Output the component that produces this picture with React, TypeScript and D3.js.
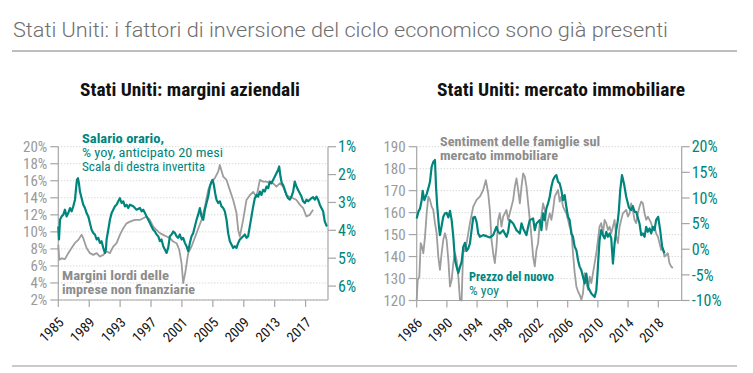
import React from "react";
import * as d3 from "d3";

const mainTitle = "Stati Uniti: i fattori di inversione del ciclo economico sono già presenti";
const leftSubtitle = "Stati Uniti: margini aziendali";
const rightSubtitle = "Stati Uniti: mercato immobiliare";

// Left chart: gross margins of non-financial companies (% , left axis)
const marginYears = [1985.00,1985.13,1985.43,1985.86,1986.29,1986.72,1987.16,1987.59,1988.02,1988.23,1988.66,1989.09,1989.53,1989.96,1990.39,1990.82,1991.25,1991.68,1992.11,1992.54,1992.97,1993.41,1993.84,1994.27,1994.91,1995.56,1995.99,1996.42,1996.85,1997.28,1997.72,1998.15,1998.58,1999.01,1999.44,1999.87,2000.30,2000.65,2000.95,2001.16,2001.42,2001.81,2002.24,2002.89,2003.53,2003.97,2004.40,2004.83,2005.26,2005.69,2005.90,2006.34,2006.77,2007.20,2007.63,2007.84,2008.06,2008.28,2008.49,2008.92,2009.35,2009.78,2010.22,2010.65,2011.08,2011.51,2011.94,2012.37,2012.80,2013.23,2013.66,2014.09,2014.53,2014.96,2015.39,2015.82,2016.25,2016.68,2017.11,2017.54,2017.97];
const marginValues = [8.48,6.72,6.90,6.80,7.50,8.10,8.70,9.06,9.65,9.26,8.10,7.50,7.30,7.50,7.10,7.30,7.70,7.50,8.28,8.67,9.65,10.43,11.00,11.20,11.40,11.40,11.60,11.80,11.40,10.60,10.20,9.85,9.65,9.45,9.26,8.87,8.67,7.90,6.33,3.98,5.16,7.50,8.28,9.85,11.40,12.97,14.92,15.90,16.30,17.07,17.85,16.50,16.10,14.90,13.75,13.00,12.20,10.20,9.45,11.40,13.75,14.30,14.70,14.10,16.10,15.90,15.90,15.70,15.70,15.30,15.70,15.30,14.30,14.10,13.95,13.75,13.20,12.80,11.80,12.00,12.60];

// Left chart: hourly wages % yoy, 20 months lead (right axis, inverted)
const wageYears = [1985.00,1985.09,1985.22,1985.43,1985.65,1985.86,1986.08,1986.29,1986.51,1986.72,1986.94,1987.16,1987.28,1987.41,1987.54,1987.67,1987.80,1988.02,1988.23,1988.45,1988.66,1988.88,1989.09,1989.31,1989.53,1989.74,1989.96,1990.17,1990.39,1990.60,1990.82,1991.03,1991.16,1991.25,1991.47,1991.68,1991.90,1992.11,1992.33,1992.54,1992.76,1992.97,1993.19,1993.41,1993.62,1993.84,1994.05,1994.27,1994.70,1995.13,1995.56,1995.78,1995.99,1996.21,1996.42,1996.64,1996.85,1997.07,1997.28,1997.50,1997.72,1997.93,1998.15,1998.36,1998.58,1998.79,1999.01,1999.22,1999.44,1999.66,1999.87,2000.09,2000.30,2000.52,2000.73,2000.95,2001.16,2001.38,2001.59,2001.81,2002.03,2002.24,2002.46,2002.67,2002.89,2003.10,2003.32,2003.53,2003.75,2003.97,2004.18,2004.40,2004.61,2004.83,2004.96,2005.13,2005.30,2005.47,2005.69,2005.91,2006.12,2006.34,2006.55,2006.77,2006.98,2007.20,2007.41,2007.63,2007.84,2008.06,2008.28,2008.49,2008.71,2008.92,2009.14,2009.35,2009.57,2009.78,2010.00,2010.22,2010.43,2010.65,2010.86,2011.08,2011.29,2011.51,2011.72,2011.94,2012.16,2012.37,2012.59,2012.80,2013.02,2013.23,2013.45,2013.58,2013.75,2013.92,2014.09,2014.31,2014.53,2014.74,2014.96,2015.17,2015.39,2015.60,2015.82,2016.03,2016.25,2016.47,2016.68,2016.90,2017.11,2017.33,2017.54,2017.76,2017.97,2018.19,2018.41,2018.62,2018.84,2019.05,2019.27,2019.48,2019.70,2019.78];
const wageValues = [3.86,4.33,3.62,3.50,3.44,3.26,3.50,3.38,3.20,3.32,3.14,2.90,2.55,2.19,2.13,2.31,2.61,2.85,3.08,3.20,3.38,3.50,3.74,3.98,4.10,4.15,4.33,4.27,4.45,4.39,4.63,4.81,4.69,4.33,3.98,3.62,3.38,3.26,3.14,3.08,2.96,2.85,3.02,2.96,3.14,3.08,3.20,3.08,3.14,3.26,3.20,3.32,3.26,3.38,3.50,3.62,3.74,3.86,3.98,4.04,4.15,4.21,4.39,4.33,4.57,4.69,4.81,4.63,4.21,4.15,4.04,4.10,4.21,4.27,4.15,4.33,4.27,4.45,4.57,4.75,4.45,4.21,4.10,3.86,3.62,3.44,3.20,3.50,3.62,3.26,3.02,2.79,2.43,2.25,2.19,2.37,2.67,2.90,3.02,2.96,3.14,3.20,3.32,3.62,4.10,4.39,4.51,4.63,4.57,4.63,4.45,4.33,4.27,4.21,4.15,4.27,4.21,3.86,3.50,3.14,2.85,2.73,2.79,2.61,2.73,2.55,2.61,2.43,2.49,2.25,2.31,2.19,2.07,1.95,1.83,1.71,2.07,2.31,2.37,2.55,2.73,2.85,2.90,2.79,2.61,2.25,2.43,2.55,2.67,2.79,2.96,3.02,2.90,2.96,2.90,2.85,2.81,2.90,2.79,2.90,3.08,3.20,3.32,3.68,3.83,3.86];

// Right chart: household housing sentiment (left axis)
const sentYears = [1986.00,1986.13,1986.35,1986.53,1986.70,1986.88,1987.10,1987.32,1987.54,1987.76,1987.98,1988.20,1988.42,1988.64,1988.86,1989.08,1989.30,1989.52,1989.74,1989.96,1990.19,1990.41,1990.63,1990.85,1991.07,1991.29,1991.51,1991.73,1991.95,1992.17,1992.39,1992.61,1992.83,1993.05,1993.49,1993.93,1994.37,1994.81,1995.16,1995.47,1995.69,1995.91,1996.13,1996.35,1996.57,1996.79,1997.01,1997.23,1997.45,1997.89,1998.11,1998.33,1998.78,1999.00,1999.22,1999.44,1999.66,1999.88,2000.10,2000.32,2000.54,2000.76,2000.98,2001.20,2001.42,2001.64,2001.86,2002.08,2002.30,2002.52,2002.74,2002.96,2003.18,2003.40,2003.62,2003.84,2004.06,2004.28,2004.50,2004.72,2004.94,2005.16,2005.38,2005.60,2005.82,2006.04,2006.26,2006.48,2006.70,2006.93,2007.15,2007.37,2007.59,2007.81,2008.03,2008.25,2008.47,2008.69,2008.91,2009.13,2009.35,2009.57,2009.79,2010.01,2010.22,2010.44,2010.67,2010.89,2011.11,2011.33,2011.55,2011.77,2011.99,2012.21,2012.43,2012.65,2012.87,2013.09,2013.31,2013.75,2013.97,2014.19,2014.41,2014.63,2014.85,2015.07,2015.29,2015.51,2015.74,2015.96,2016.18,2016.40,2016.62,2016.84,2017.06,2017.28,2017.50,2017.71,2017.94,2018.16,2018.38,2018.60,2018.82,2019.04,2019.26,2019.48,2019.70,2019.92];
const sentValues = [120.3,129.4,130.9,146.1,144.5,141.5,149.1,159.7,167.3,165.8,162.7,161.2,155.2,150.6,140.0,133.9,141.5,147.6,150.6,147.6,138.5,126.4,129.4,137.0,141.5,138.5,130.9,120.3,120.0,144.5,142.3,146.1,150.6,155.2,162.7,165.8,167.3,170.3,174.8,168.8,161.2,147.6,141.5,137.0,144.5,156.7,159.7,153.6,158.2,161.2,156.7,159.7,165.8,171.8,175.6,170.3,164.2,171.8,177.9,176.4,171.8,164.2,156.7,149.1,140.0,135.5,143.0,146.1,155.2,158.2,164.2,161.2,152.1,156.7,159.7,156.7,161.2,167.3,168.8,170.3,165.0,167.3,162.7,161.2,159.7,156.7,153.6,152.1,141.5,132.4,126.4,124.1,122.6,120.3,123.3,132.4,129.4,124.8,130.9,127.9,132.4,137.0,141.5,147.6,153.6,155.2,150.6,156.7,155.2,152.1,153.6,150.6,153.6,156.7,149.1,146.1,153.6,156.7,159.7,161.2,158.2,159.7,164.2,161.2,156.7,155.2,159.7,162.7,165.0,164.2,159.7,156.7,158.2,156.7,155.2,152.1,153.6,150.6,149.1,146.1,143.0,143.8,140.0,140.8,141.5,137.0,135.5,134.7];

// Right chart: new home prices % yoy (right axis)
const priceYears = [1986.00,1986.22,1986.44,1986.66,1986.79,1987.01,1987.32,1987.54,1987.76,1987.98,1988.20,1988.42,1988.56,1988.73,1988.95,1989.08,1989.30,1989.52,1989.74,1989.96,1990.19,1990.41,1990.63,1990.85,1991.07,1991.29,1991.51,1991.73,1991.95,1992.17,1992.39,1992.61,1992.83,1993.05,1993.27,1993.49,1993.71,1993.93,1994.15,1994.37,1994.81,1995.25,1995.69,1996.13,1996.57,1996.79,1997.01,1997.45,1997.89,1998.11,1998.33,1998.78,1999.22,1999.66,1999.88,2000.10,2000.54,2000.76,2000.98,2001.42,2001.64,2001.86,2002.30,2002.52,2002.74,2002.96,2003.18,2003.40,2003.62,2003.84,2004.06,2004.28,2004.50,2004.72,2004.94,2005.16,2005.38,2005.60,2005.82,2006.04,2006.26,2006.48,2006.70,2006.93,2007.15,2007.37,2007.59,2007.81,2008.03,2008.25,2008.47,2008.69,2008.91,2009.13,2009.35,2009.57,2009.79,2009.92,2010.05,2010.22,2010.44,2010.67,2010.89,2011.11,2011.33,2011.55,2011.77,2011.99,2012.21,2012.43,2012.65,2012.78,2012.96,2013.19,2013.45,2013.75,2014.11,2014.41,2014.63,2014.85,2015.07,2015.51,2015.74,2015.96,2016.18,2016.40,2016.62,2016.84,2017.06,2017.28,2017.50,2017.71,2017.98,2018.25,2018.51,2018.82];
const priceValues = [6.00,7.30,7.96,9.58,11.41,9.58,10.76,11.86,13.16,16.09,17.07,17.40,12.19,8.15,4.38,2.75,4.51,6.33,6.98,7.11,6.20,7.50,5.68,2.42,-2.14,-3.44,-4.61,-3.44,-2.46,0.47,1.25,-0.31,0.14,1.12,3.72,6.20,6.33,5.35,3.07,2.42,2.75,2.55,2.29,2.75,4.38,3.40,3.07,3.72,2.42,3.40,5.68,5.03,3.72,3.07,5.03,4.05,2.75,4.38,5.68,6.00,3.72,5.03,5.68,3.72,6.98,5.68,7.96,8.93,10.23,12.19,13.49,14.14,14.47,13.16,12.84,11.54,9.58,10.56,8.28,6.33,5.68,3.07,2.42,0.47,-0.18,-2.14,-3.44,-4.09,-5.39,-6.69,-4.74,-7.34,-7.99,-8.65,-8.97,-9.30,-7.99,-5.39,-2.14,1.77,3.72,2.75,2.10,3.40,2.42,3.07,2.10,-2.79,1.12,3.72,5.68,7.63,11.54,14.47,12.84,10.23,8.15,7.63,8.41,7.30,7.30,5.03,2.75,3.07,2.42,4.38,3.40,4.05,3.07,4.38,3.72,5.68,6.33,3.72,0.47,-0.83];

// Tick labels
const leftTicksA = [2, 4, 6, 8, 10, 12, 14, 16, 18, 20];
const rightTicksA = [1, 2, 3, 4, 5, 6];
const xTicksA = [1985, 1989, 1993, 1997, 2001, 2005, 2009, 2013, 2017];
const leftTicksB = [120, 130, 140, 150, 160, 170, 180, 190];
const rightTicksB = [-10, -5, 0, 5, 10, 15, 20];
const xTicksB = [1986, 1990, 1994, 1998, 2002, 2006, 2010, 2014, 2018];

const TEAL = "#00857d";
const GRAYLINE = "#9d9d9d";
const AXIS = "#a6a6a6";
const TICKTXT = "#9a9a9a";
const GRID = "#c8c8c8";
const COND = "'Liberation Sans Narrow', 'Roboto Condensed', 'DejaVu Sans Condensed', 'Arial Narrow', sans-serif";

function zip(a: number[], b: number[]): [number, number][] {
  return a.map((v, i) => [v, b[i]] as [number, number]);
}

type PanelProps = {
  x: d3.ScaleLinear<number, number>;
  yL: d3.ScaleLinear<number, number>;
  yR: d3.ScaleLinear<number, number>;
  lTicks: number[];
  rTicks: number[];
  xTicks: number[];
  lFmt: (v: number) => string;
  rFmt: (v: number) => string;
  top: number;
  bottom: number;
};

function Axes(p: PanelProps) {
  const [x0, x1] = p.x.range();
  return (
    <g>
      {p.lTicks.map((t) => (
        <line key={"g" + t} x1={x0} x2={x1} y1={p.yL(t)} y2={p.yL(t)} stroke={GRID} strokeWidth={1} strokeDasharray="1,2" />
      ))}
      <line x1={x0} x2={x0} y1={p.top} y2={p.bottom} stroke={AXIS} strokeWidth={1.2} />
      <line x1={x1} x2={x1} y1={p.top} y2={p.bottom} stroke={AXIS} strokeWidth={1.2} />
      <line x1={x0} x2={x1} y1={p.bottom} y2={p.bottom} stroke={AXIS} strokeWidth={1.2} />
      {p.lTicks.map((t) => (
        <g key={"l" + t}>
          <line x1={x0 - 8} x2={x0} y1={p.yL(t)} y2={p.yL(t)} stroke={AXIS} strokeWidth={1.2} />
          <text x={x0 - 11} y={p.yL(t)} dy="0.36em" textAnchor="end" fill={TICKTXT} fontFamily={COND} fontSize={15}>{p.lFmt(t)}</text>
        </g>
      ))}
      {p.rTicks.map((t) => (
        <g key={"r" + t}>
          <line x1={x1} x2={x1 + 8} y1={p.yR(t)} y2={p.yR(t)} stroke={AXIS} strokeWidth={1.2} />
          <text x={x1 + 10} y={p.yR(t)} dy="0.36em" textAnchor="start" fill={TEAL} fontFamily={COND} fontSize={16}>{p.rFmt(t)}</text>
        </g>
      ))}
      {p.xTicks.map((t) => (
        <g key={"x" + t}>
          <line x1={p.x(t)} x2={p.x(t)} y1={p.bottom} y2={p.bottom + 7} stroke={AXIS} strokeWidth={1.2} />
          <text transform={`translate(${p.x(t) + 3},${p.bottom + 20}) rotate(-45)`} textAnchor="end" dy="0.35em" fill="#111" fontFamily={COND} fontSize={14}>{t}</text>
        </g>
      ))}
    </g>
  );
}

export default function App() {
  const W = 753, H = 373;

  const xA = d3.scaleLinear().domain([1985, 2019.9]).range([58.3, 328]);
  const yA = d3.scaleLinear().domain([2, 20]).range([300, 146.7]);
  const yAR = d3.scaleLinear().domain([1, 6.5]).range([146.7, 300]);

  const xB = d3.scaleLinear().domain([1986, 2021.1]).range([416.7, 681.7]);
  const yB = d3.scaleLinear().domain([120, 190]).range([300.5, 146.7]);
  const yBR = d3.scaleLinear().domain([-10, 20]).range([300.5, 146.7]);

  const lineA = d3.line<[number, number]>().x((d) => xA(d[0])).y((d) => yA(d[1]));
  const lineAR = d3.line<[number, number]>().x((d) => xA(d[0])).y((d) => yAR(d[1]));
  const lineB = d3.line<[number, number]>().x((d) => xB(d[0])).y((d) => yB(d[1]));
  const lineBR = d3.line<[number, number]>().x((d) => xB(d[0])).y((d) => yBR(d[1]));

  return (
    <svg width={W} height={H} viewBox={`0 0 ${W} ${H}`} style={{ position: "absolute", left: 0, top: 0, background: "#fff" }}>
      <rect width={W} height={H} fill="#fff" />
      <text x={13} y={37} fill="#6e6e6e" fontFamily="Roboto, 'Open Sans', sans-serif" fontWeight={300} fontSize={20} textLength={655} lengthAdjust="spacingAndGlyphs">{mainTitle}</text>
      <line x1={12} x2={737} y1={51} y2={51} stroke="#a8a8a8" strokeWidth={1.6} />
      <line x1={12} x2={737} y1={366} y2={366} stroke="#b8b8b8" strokeWidth={1.6} />

      <text x={190} y={96} textAnchor="middle" fill="#111" fontFamily={COND} fontWeight={700} fontSize={17.5} textLength={220} lengthAdjust="spacingAndGlyphs">{leftSubtitle}</text>
      <text x={561} y={96} textAnchor="middle" fill="#111" fontFamily={COND} fontWeight={700} fontSize={17.5} textLength={248} lengthAdjust="spacingAndGlyphs">{rightSubtitle}</text>

      <Axes x={xA} yL={yA} yR={yAR} lTicks={leftTicksA} rTicks={rightTicksA} xTicks={xTicksA}
        lFmt={(v) => v + "%"} rFmt={(v) => v + "%"} top={146.7} bottom={300} />
      <Axes x={xB} yL={yB} yR={yBR} lTicks={leftTicksB} rTicks={rightTicksB} xTicks={xTicksB}
        lFmt={(v) => String(v)} rFmt={(v) => v + "%"} top={146.7} bottom={300.5} />

      <path d={lineA(zip(marginYears, marginValues)) || ""} fill="none" stroke={GRAYLINE} strokeWidth={1.8} strokeLinejoin="round" />
      <path d={lineAR(zip(wageYears, wageValues)) || ""} fill="none" stroke={TEAL} strokeWidth={2.2} strokeLinejoin="round" />

      <path d={lineB(zip(sentYears, sentValues)) || ""} fill="none" stroke={GRAYLINE} strokeWidth={1.8} strokeLinejoin="round" />
      <path d={lineBR(zip(priceYears, priceValues)) || ""} fill="none" stroke={TEAL} strokeWidth={2.2} strokeLinejoin="round" />

      <g fontFamily={COND} fontSize={12.2}>
        <text x={82} y={143} fill={TEAL} fontWeight={700} textLength={82} lengthAdjust="spacingAndGlyphs">Salario orario,</text>
        <text x={82} y={157} fill={TEAL} textLength={141} lengthAdjust="spacingAndGlyphs">% yoy, anticipato 20 mesi</text>
        <text x={82} y={171} fill={TEAL} textLength={123} lengthAdjust="spacingAndGlyphs">Scala di destra invertita</text>
        <text x={62} y={280} fill="#8c8c8c" fontWeight={700} textLength={107} lengthAdjust="spacingAndGlyphs">Margini lordi delle</text>
        <text x={62} y={294} fill="#8c8c8c" fontWeight={700} textLength={133} lengthAdjust="spacingAndGlyphs">imprese non finanziarie</text>

        <text x={440} y={146} fill="#8c8c8c" fontWeight={700} textLength={160} lengthAdjust="spacingAndGlyphs">Sentiment delle famiglie sul</text>
        <text x={440} y={160} fill="#8c8c8c" fontWeight={700} textLength={118} lengthAdjust="spacingAndGlyphs">mercato immobiliare</text>
        <text x={469} y={281} fill={TEAL} fontWeight={700} textLength={85} lengthAdjust="spacingAndGlyphs">Prezzo del nuovo</text>
        <text x={469} y={295} fill={TEAL} textLength={30} lengthAdjust="spacingAndGlyphs">% yoy</text>
      </g>
    </svg>
  );
}
